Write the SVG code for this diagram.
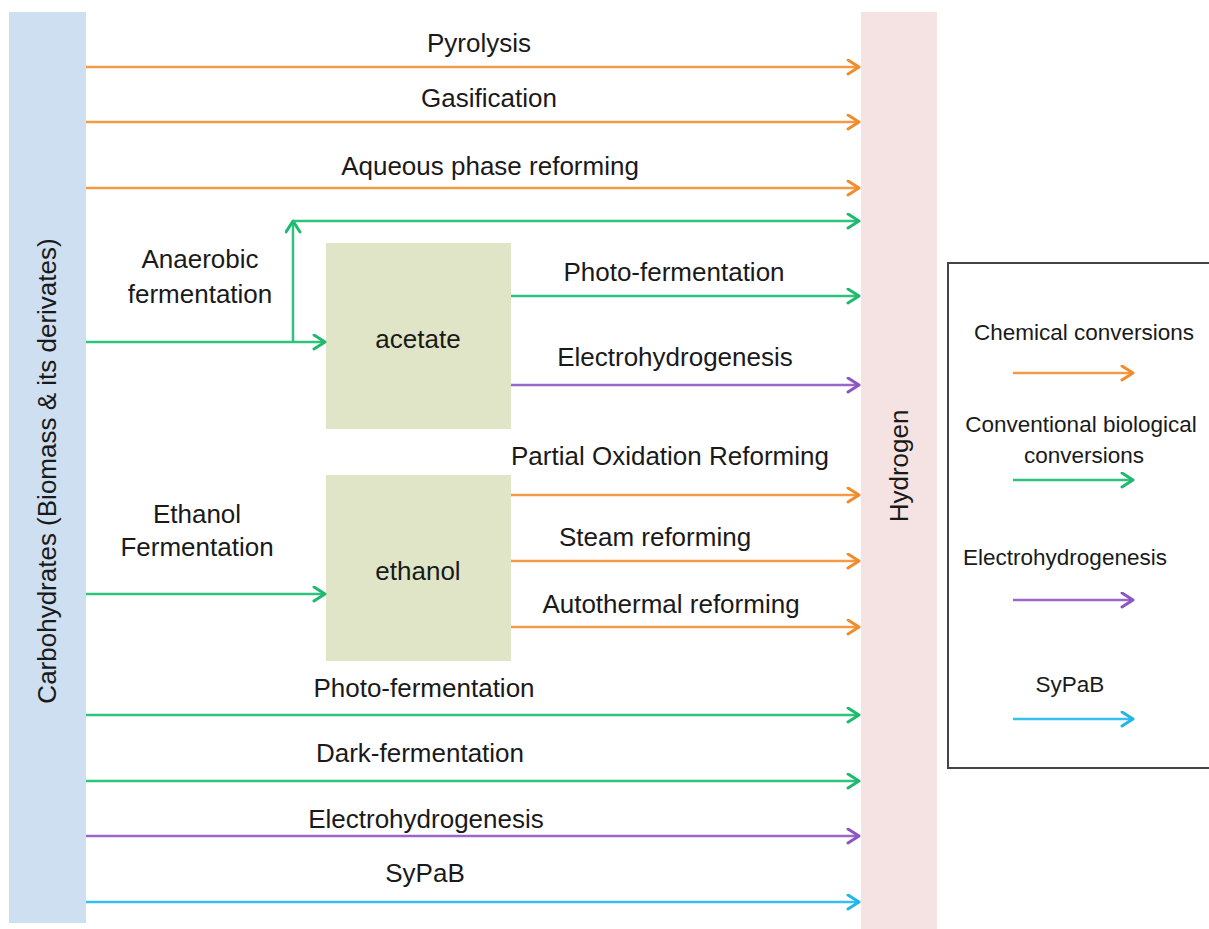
<svg xmlns="http://www.w3.org/2000/svg" width="1209" height="929" viewBox="0 0 1209 929">
<style>
text{font-family:"Liberation Sans",Arial,sans-serif;fill:#1a1a1a;text-anchor:middle}
.m{font-size:26px}
.l{font-size:22.5px}
.ln{fill:none;stroke-width:2.5}
.o{stroke:#f29a45;marker-end:url(#ao)}
.g{stroke:#2ec27e;marker-end:url(#ag)}
.p{stroke:#9a67c9;marker-end:url(#ap)}
.c{stroke:#35c0ee;marker-end:url(#ac)}
</style>
<defs>
<marker id="ao" markerUnits="userSpaceOnUse" markerWidth="16" markerHeight="18" refX="13" refY="8" orient="auto"><path d="M2,1 L13,8 L2,15" fill="none" stroke="#ef8c2c" stroke-width="3" stroke-linecap="round" stroke-linejoin="round"/></marker>
<marker id="ag" markerUnits="userSpaceOnUse" markerWidth="16" markerHeight="18" refX="13" refY="8" orient="auto"><path d="M2,1 L13,8 L2,15" fill="none" stroke="#1fb96e" stroke-width="3" stroke-linecap="round" stroke-linejoin="round"/></marker>
<marker id="ap" markerUnits="userSpaceOnUse" markerWidth="16" markerHeight="18" refX="13" refY="8" orient="auto"><path d="M2,1 L13,8 L2,15" fill="none" stroke="#8a55c2" stroke-width="3" stroke-linecap="round" stroke-linejoin="round"/></marker>
<marker id="ac" markerUnits="userSpaceOnUse" markerWidth="16" markerHeight="18" refX="13" refY="8" orient="auto"><path d="M2,1 L13,8 L2,15" fill="none" stroke="#22b5ea" stroke-width="3" stroke-linecap="round" stroke-linejoin="round"/></marker>
</defs>
<rect width="1209" height="929" fill="#ffffff"/>

<g id="carbohydrates">
<rect x="9" y="12" width="77" height="911" fill="#cddff1"/>
<text class="m" transform="translate(56,471) rotate(-90)">Carbohydrates (Biomass &amp; its derivates)</text>
</g>
<g id="hydrogen">
<rect x="861" y="12" width="76" height="917" fill="#f5e3e3"/>
<text class="m" transform="translate(908,466) rotate(-90)">Hydrogen</text>
</g>
<g id="acetate">
<rect x="326" y="243" width="185" height="186" fill="#dfe5c6"/>
<text class="m" x="418" y="348">acetate</text>
</g>
<g id="ethanol">
<rect x="326" y="475" width="185" height="186" fill="#dfe5c6"/>
<text class="m" x="418" y="580">ethanol</text>
</g>

<g id="connectors">
<line class="ln o" x1="86" y1="67" x2="859" y2="67"/>
<line class="ln o" x1="86" y1="122" x2="859" y2="122"/>
<line class="ln o" x1="86" y1="188" x2="859" y2="188"/>
<line class="ln g" x1="86" y1="342" x2="325" y2="342"/>
<line class="ln g" x1="293" y1="342" x2="293" y2="221"/>
<line class="ln g" x1="293" y1="221" x2="859" y2="221"/>
<line class="ln g" x1="511" y1="296" x2="859" y2="296"/>
<line class="ln p" x1="511" y1="385" x2="859" y2="385"/>
<line class="ln o" x1="511" y1="495" x2="859" y2="495"/>
<line class="ln o" x1="511" y1="561" x2="859" y2="561"/>
<line class="ln o" x1="511" y1="627" x2="859" y2="627"/>
<line class="ln g" x1="86" y1="594" x2="325" y2="594"/>
<line class="ln g" x1="86" y1="715" x2="859" y2="715"/>
<line class="ln g" x1="86" y1="781" x2="859" y2="781"/>
<line class="ln p" x1="86" y1="836" x2="859" y2="836"/>
<line class="ln c" x1="86" y1="902" x2="859" y2="902"/>
</g>

<g id="labels">
<text class="m" x="479" y="52">Pyrolysis</text>
<text class="m" x="489" y="107">Gasification</text>
<text class="m" x="490" y="175">Aqueous phase reforming</text>
<text class="m" x="200" y="268">Anaerobic</text>
<text class="m" x="200" y="303">fermentation</text>
<text class="m" x="674" y="281">Photo-fermentation</text>
<text class="m" x="675" y="366">Electrohydrogenesis</text>
<text class="m" x="670" y="465">Partial Oxidation Reforming</text>
<text class="m" x="655" y="546">Steam reforming</text>
<text class="m" x="671" y="613">Autothermal reforming</text>
<text class="m" x="197" y="523">Ethanol</text>
<text class="m" x="197" y="556">Fermentation</text>
<text class="m" x="424" y="697">Photo-fermentation</text>
<text class="m" x="420" y="762">Dark-fermentation</text>
<text class="m" x="426" y="828">Electrohydrogenesis</text>
<text class="m" x="425" y="882">SyPaB</text>
</g>

<g id="legend">
<rect x="948" y="263" width="270" height="505" fill="#ffffff" stroke="#444444" stroke-width="2"/>
<text class="l" x="1084" y="340">Chemical conversions</text>
<line class="ln o" x1="1013" y1="373" x2="1133" y2="373"/>
<text class="l" x="1081" y="432">Conventional biological</text>
<text class="l" x="1084" y="463">conversions</text>
<line class="ln g" x1="1013" y1="480" x2="1133" y2="480"/>
<text class="l" x="1065" y="565">Electrohydrogenesis</text>
<line class="ln p" x1="1013" y1="600" x2="1133" y2="600"/>
<text class="l" x="1070" y="692">SyPaB</text>
<line class="ln c" x1="1013" y1="719" x2="1133" y2="719"/>
</g>
</svg>
